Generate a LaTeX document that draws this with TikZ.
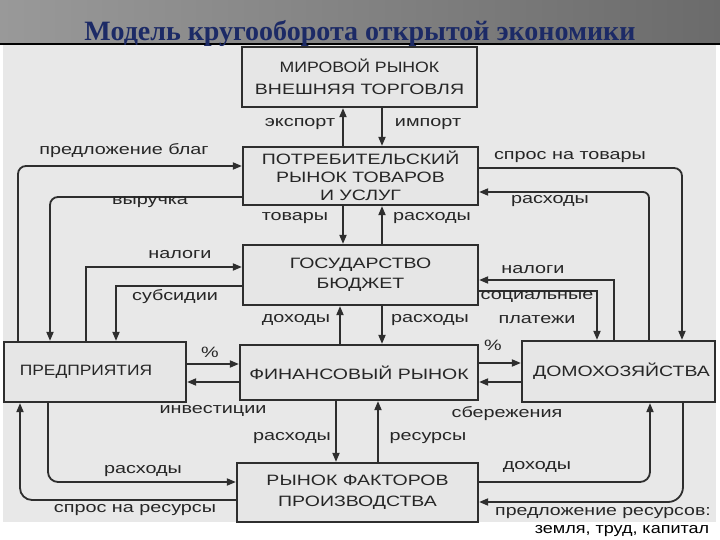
\documentclass[tikz,border=0pt]{standalone}
\usepackage{fontspec}
\setmainfont{Liberation Sans}
\newfontfamily\titlefont{Liberation Serif}
\usepackage{graphicx}
\usetikzlibrary{arrows.meta}
\definecolor{boxline}{HTML}{2E2E2E}
\definecolor{boxfill}{HTML}{E6E6E6}
\definecolor{bodyfill}{HTML}{E8E8E8}
\definecolor{txt}{HTML}{262626}
\definecolor{titlecol}{HTML}{1C2A66}
\newcommand\hs[1]{\scalebox{1.32}[1]{#1}}
\newcommand\bs[2][1.3]{\scalebox{#1}[1]{#2}}
\begin{document}
\begin{tikzpicture}[x=1pt,y=-1pt,
  box/.style={draw=boxline, line width=2.2pt, fill=boxfill, inner sep=0pt, font=\fontsize{15}{19}\selectfont, text=txt, align=center},
  lbl/.style={font=\fontsize{15}{17}\selectfont, text=txt, inner sep=0pt},
  arr/.style={draw=boxline, line width=1.8pt, -{Triangle[length=9pt,width=7pt]}},
  ln/.style={draw=boxline, line width=1.8pt}
]
\useasboundingbox (0,0) rectangle (720,540);
\fill[white] (0,0) rectangle (720,540);
\shade[left color=black!40, middle color=black!22, right color=black!58] (0,0) rectangle (720,44);
\fill[bodyfill] (3,44) rectangle (716,522);
\draw[black, line width=1.5pt] (0,44) -- (720,44);
\node[font=\titlefont\bfseries\fontsize{28}{30}\selectfont, text=titlecol, inner sep=0pt, anchor=base] (title) at (360,41) {Модель кругооборота открытой экономики};

% boxes
\node[box, minimum width=235pt, minimum height=60pt, font=\fontsize{15}{22}\selectfont] (mir) at (359.5,77) {\bs[1.18]{МИРОВОЙ РЫНОК}\\\bs{ВНЕШНЯЯ ТОРГОВЛЯ}};
\node[box, minimum width=235pt, minimum height=58pt, font=\fontsize{15}{18}\selectfont] (potr) at (360.5,176) {\bs{ПОТРЕБИТЕЛЬСКИЙ}\\\bs{РЫНОК ТОВАРОВ}\\\bs{И УСЛУГ}};
\node[box, minimum width=235pt, minimum height=60pt, font=\fontsize{15}{20}\selectfont] (gos) at (360.5,275) {\bs{ГОСУДАРСТВО}\\\bs{БЮДЖЕТ}};
\node[box, minimum width=182pt, minimum height=60pt] (pred) at (95,372) {\bs[1.16]{ПРЕДПРИЯТИЯ}\hspace{18pt}};
\node[box, minimum width=238pt, minimum height=55pt] (fin) at (359,372.5) {\bs{ФИНАНСОВЫЙ РЫНОК}};
\node[box, minimum width=193pt, minimum height=61pt] (dom) at (618.5,371.5) {\hspace{6pt}\bs{ДОМОХОЗЯЙСТВА}};
\node[box, minimum width=241pt, minimum height=59pt, font=\fontsize{15}{21}\selectfont] (rf) at (357.5,492.5) {\bs{РЫНОК ФАКТОРОВ}\\\bs{ПРОИЗВОДСТВА}};

% vertical central arrows
\draw[arr] (343,0 |- potr.north) -- (343,0 |- mir.south);
\draw[arr] (382,0 |- mir.south) -- (382,0 |- potr.north);
\draw[arr] (343,0 |- potr.south) -- (343,0 |- gos.north);
\draw[arr] (382,0 |- gos.north) -- (382,0 |- potr.south);
\draw[arr] (340,0 |- fin.north) -- (340,0 |- gos.south);
\draw[arr] (382,0 |- gos.south) -- (382,0 |- fin.north);
\draw[arr] (336,0 |- fin.south) -- (336,0 |- rf.north);
\draw[arr] (378,0 |- rf.north) -- (378,0 |- fin.south);

% horizontal middle arrows
\draw[arr] (pred.east |- 0,364) -- (fin.west |- 0,364);
\draw[arr] (fin.west |- 0,382) -- (pred.east |- 0,382);
\draw[arr] (fin.east |- 0,363) -- (dom.west |- 0,363);
\draw[arr] (dom.west |- 0,382) -- (fin.east |- 0,382);

% left loops
\draw[arr, rounded corners=8pt] (18,0 |- pred.north) |- (potr.west |- 0,166);
\draw[arr, rounded corners=8pt] (potr.west |- 0,197) -| (50,0 |- pred.north);
\draw[arr] (86,0 |- pred.north) |- (gos.west |- 0,267);
\draw[arr] (gos.west |- 0,286) -| (116,0 |- pred.north);

% right loops
\draw[arr, rounded corners=8pt] (potr.east |- 0,168) -| (682,0 |- dom.north);
\draw[arr, rounded corners=6pt] (649,0 |- dom.north) |- (potr.east |- 0,192);
\draw[arr] (614,0 |- dom.north) |- (gos.east |- 0,280);
\draw[arr] (gos.east |- 0,291) -| (597,0 |- dom.north);

% bottom loops
\draw[arr, rounded corners=10pt] (48,0 |- pred.south) |- (rf.west |- 0,482);
\draw[arr, rounded corners=12pt] (rf.west |- 0,500) -| (20,0 |- pred.south);
\draw[arr, rounded corners=10pt] (rf.east |- 0,482) -| (650,0 |- dom.south);
\draw[arr, rounded corners=15pt] (683,0 |- dom.south) |- (rf.east |- 0,502);

% labels
\node[lbl] (l1) at (300,124) {\hs{экспорт}};
\node[lbl] (l2) at (428,124) {\hs{импорт}};
\node[lbl] (l3) at (124,151) {\hs{предложение благ}};
\node[lbl] (l4) at (570,157) {\hs{спрос на товары}};
\node[lbl] (l5) at (150,202) {\hs{выручка}};
\node[lbl] (l6) at (550,201) {\hs{расходы}};
\node[lbl] (l7) at (295,218) {\hs{товары}};
\node[lbl] (l8) at (432,218) {\hs{расходы}};
\node[lbl] (l9) at (180,255) {\hs{налоги}};
\node[lbl] (l10) at (533,270) {\hs{налоги}};
\node[lbl] (l11) at (175,297) {\hs{субсидии}};
\node[lbl] (l12) at (537,297) {\hs{социальные}};
\node[lbl] (l13) at (537,320) {\hs{платежи}};
\node[lbl] (l14) at (296,320) {\hs{доходы}};
\node[lbl] (l15) at (430,320) {\hs{расходы}};
\node[lbl] (l16) at (210,352) {\hs{\%}};
\node[lbl] (l17) at (493,345) {\hs{\%}};
\node[lbl] (l18) at (213,411) {\hs{инвестиции}};
\node[lbl] (l19) at (507,414) {\hs{сбережения}};
\node[lbl] (l20) at (292,438) {\hs{расходы}};
\node[lbl] (l21) at (428,438) {\hs{ресурсы}};
\node[lbl] (l22) at (143,471) {\hs{расходы}};
\node[lbl] (l23) at (537,467) {\hs{доходы}};
\node[lbl] (l24) at (135,510) {\hs{спрос на ресурсы}};
\node[lbl] (l25) at (603,513) {\scalebox{1.3}[1]{предложение ресурсов:}};
\node[lbl, text=black] (l26) at (622,531) {\scalebox{1.2}[1]{земля, труд, капитал}};
\end{tikzpicture}
\end{document}
